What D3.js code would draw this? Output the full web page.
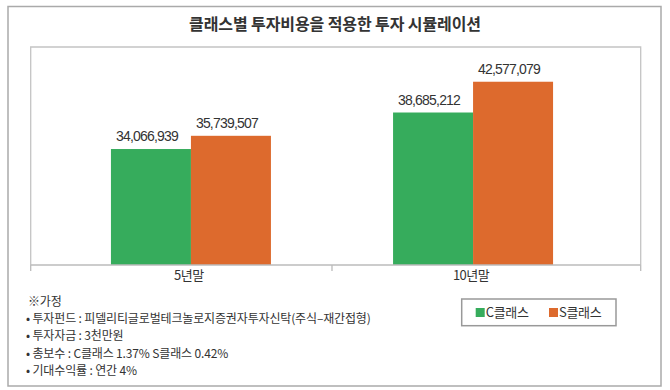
<!DOCTYPE html>
<html>
<head>
<meta charset="utf-8">
<script src="https://cdn.jsdelivr.net/npm/d3@7"></script>
<style>
  body { margin: 0; background: #fff; }
  text { font-family: "Noto Sans CJK KR", "Noto Sans", sans-serif; fill: #333; }
  .val { font-family: "Liberation Sans", Arial, sans-serif; letter-spacing: -0.8px; }
</style>
</head>
<body>
<div id="stage"></div>
<script>
// chart data
var categories = ["5년말", "10년말"];
var series = ["C클래스", "S클래스"];
var cValues = [34066939, 38685212];
var sValues = [35739507, 42577079];
var seriesColors = ["#36ac5c", "#dd6a2d"];
var titleText = "클래스별 투자비용을 적용한 투자 시뮬레이션";
var notes = [
  "※가정",
  "• 투자펀드 : 피델리티글로벌테크놀로지증권자투자신탁(주식–재간접형)",
  "• 투자자금 : 3천만원",
  "• 총보수 : C클래스 1.37% S클래스 0.42%",
  "• 기대수익률 : 연간 4%"
];

var stage_width = 670;
var stage_height = 390;

build_scene();

function build_scene() {
  var svg = d3.select("#stage")
    .append("svg")
    .attr("width", stage_width)
    .attr("height", stage_height);

  // outer frame
  svg.append("rect")
    .attr("x", 8).attr("y", 6.5)
    .attr("width", 653).attr("height", 379.5)
    .attr("fill", "none")
    .attr("stroke", "#aaa")
    .attr("stroke-width", 1.5);

  // title
  svg.append("text")
    .attr("x", 335).attr("y", 30)
    .attr("text-anchor", "middle")
    .style("font-size", "16px")
    .style("font-weight", "bold")
    .style("letter-spacing", "-0.1px")
    .text(titleText);

  var plot = { left: 30.7, right: 640.7, top: 47, bottom: 265 };

  // category centres are not symmetric in the original, so the point range stops short
  var x = d3.scalePoint()
    .domain(categories)
    .range([plot.left, 633.3])
    .padding(0.568);
  var xSub = d3.scaleBand()
    .domain(series)
    .range([-80, 80]);
  var y = d3.scaleLinear()
    .domain([19400000, 46970000])
    .range([plot.bottom, plot.top]);

  // plot box (top, left, right)
  svg.append("path")
    .attr("d", "M" + plot.left + "," + plot.bottom + "V" + plot.top + "H" + plot.right + "V" + plot.bottom)
    .attr("fill", "none")
    .attr("stroke", "#c4c4c4")
    .attr("stroke-width", 1.3);

  var rows = categories.map(function(c, i) {
    return { cat: c, values: [cValues[i], sValues[i]] };
  });

  var groups = svg.selectAll("g.cat")
    .data(rows)
    .enter()
    .append("g")
    .attr("class", "cat")
    .attr("transform", function(d) { return "translate(" + x(d.cat) + ",0)"; });

  groups.selectAll("rect")
    .data(function(d) {
      return d.values.map(function(v, j) { return { s: series[j], v: v, j: j }; });
    })
    .enter()
    .append("rect")
    .attr("x", function(d) { return xSub(d.s); })
    .attr("width", xSub.bandwidth())
    .attr("y", function(d) { return y(d.v); })
    .attr("height", function(d) { return plot.bottom - y(d.v); })
    .attr("fill", function(d) { return seriesColors[d.j]; });

  groups.selectAll("text.val")
    .data(function(d) {
      return d.values.map(function(v, j) { return { s: series[j], v: v }; });
    })
    .enter()
    .append("text")
    .attr("class", "val")
    .attr("x", function(d) { return xSub(d.s) + xSub.bandwidth() / 2 - 4; })
    .attr("y", function(d) { return y(d.v) - 8; })
    .attr("text-anchor", "middle")
    .style("font-size", "14px")
    .text(function(d) { return d3.format(",")(d.v); });

  // x axis
  var mid = (x(categories[0]) + x(categories[1])) / 2;
  var axis = svg.append("g");
  axis.append("line")
    .attr("x1", plot.left).attr("x2", plot.right)
    .attr("y1", plot.bottom).attr("y2", plot.bottom)
    .attr("stroke", "#bbb").attr("stroke-width", 1.5);
  axis.selectAll("line.tick")
    .data([plot.left, mid, plot.right])
    .enter()
    .append("line")
    .attr("x1", function(d) { return d; }).attr("x2", function(d) { return d; })
    .attr("y1", plot.bottom).attr("y2", plot.bottom + 6)
    .attr("stroke", "#bbb").attr("stroke-width", 1.3);
  axis.selectAll("text")
    .data(categories)
    .enter()
    .append("text")
    .attr("x", function(d) { return x(d) - 2; })
    .attr("y", 280)
    .attr("text-anchor", "middle")
    .style("font-size", "13px")
    .style("letter-spacing", "-0.5px")
    .text(function(d) { return d; });

  // notes
  svg.selectAll("text.note")
    .data(notes)
    .enter()
    .append("text")
    .attr("class", "note")
    .attr("x", function(d, i) { return i == 0 ? 28 : 26; })
    .attr("y", function(d, i) { return 306 + i * 17.2; })
    .style("font-size", "12px")
    .style("letter-spacing", "-0.15px")
    .text(function(d) { return d; });

  // legend
  var legend = svg.append("g");
  legend.append("rect")
    .attr("x", 461.7).attr("y", 299)
    .attr("width", 154.3).attr("height", 26.7)
    .attr("fill", "#fff")
    .attr("stroke", "#999")
    .attr("stroke-width", 1.5);
  var items = legend.selectAll("g")
    .data(series)
    .enter()
    .append("g")
    .attr("transform", function(d, i) { return "translate(" + (475.7 + i * 73.3) + ",308)"; });
  items.append("rect")
    .attr("width", 9).attr("height", 9)
    .attr("fill", function(d, i) { return seriesColors[i]; });
  items.append("text")
    .attr("x", 10).attr("y", 9)
    .style("font-size", "13px")
    .style("letter-spacing", "-0.3px")
    .text(function(d) { return d; });
}
</script>
</body>
</html>
